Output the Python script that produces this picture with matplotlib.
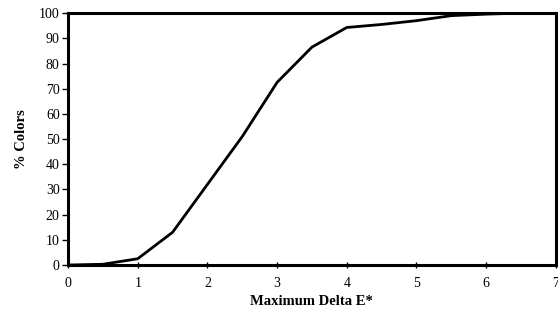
import matplotlib
matplotlib.use("Agg")
import matplotlib.pyplot as plt

# cumulative % of colours vs maximum delta E*
delta_e = [0, 0.5, 1.0, 1.5, 2.0, 2.5, 3.0, 3.5, 4.0, 4.5, 5.0, 5.5, 6.0, 6.5]
pct_colors = [0, 0.3, 2.5, 13, 32, 51, 72.5, 86.5, 94.3, 95.5, 97, 99, 99.6, 100]

x_ticks = [0, 1, 2, 3, 4, 5, 6, 7]
y_ticks = list(range(0, 101, 10))

plt.rcParams["font.family"] = ["Liberation Serif", "DejaVu Serif"]

fig = plt.figure(figsize=(5.58, 3.28), dpi=100)
ax = fig.add_axes([0.122, 0.192, 0.874, 0.768])

ax.plot(delta_e, pct_colors, color="black", lw=2.0, solid_joinstyle="miter")

ax.set_xlim(0, 7)
ax.set_ylim(0, 100)
ax.set_xticks(x_ticks)
ax.set_yticks(y_ticks)
ax.tick_params(axis="x", direction="inout", length=5, width=1, labelsize=10, pad=6)
ax.tick_params(axis="y", direction="out", length=4, width=1, labelsize=10, pad=2)
for sp in ax.spines.values():
    sp.set_linewidth(2.2)

ax.set_xlabel("Maximum Delta E*", fontsize=10.5, fontweight="bold", labelpad=4)
ax.set_ylabel("% Colors", fontsize=10.5, fontweight="bold", labelpad=8)

fig.savefig("out.png", dpi=100)
